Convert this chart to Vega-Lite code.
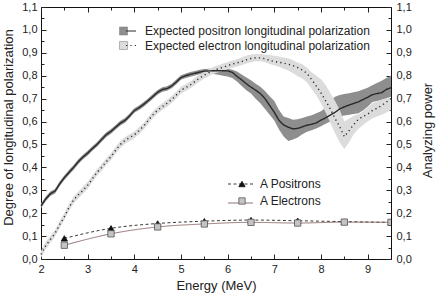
{
  "$schema": "https://vega.github.io/schema/vega-lite/v6.json",
  "width": 350,
  "height": 252,
  "autosize": {"type": "none"},
  "padding": {"left": 41, "top": 7, "right": 45, "bottom": 37},
  "background": "white",
  "config": {
    "font": "Liberation Sans",
    "view": {"stroke": "#111", "strokeWidth": 1},
    "axis": {"grid": false, "domain": false, "labelFlush": false, "labelOverlap": false, "labelBound": false, "labelFont": "Liberation Sans", "labelFontSize": 11, "labelColor": "#222", "tickColor": "#222", "titleFont": "Liberation Sans", "titleColor": "#222", "titleFontWeight": "normal", "titleFontSize": 13, "zindex": 1},
    "legend": {"padding": 0, "labelFont": "Liberation Sans", "labelFontSize": 12, "labelColor": "#222", "orient": "none", "labelLimit": 0}
  },
  "datasets": {
    "curves": [
      {"E":2.0,"series":"Expected positron longitudinal polarization","v":0.232,"lo":0.222,"hi":0.242},
      {"E":2.1,"series":"Expected positron longitudinal polarization","v":0.262,"lo":0.252,"hi":0.272},
      {"E":2.2,"series":"Expected positron longitudinal polarization","v":0.285,"lo":0.275,"hi":0.295},
      {"E":2.3,"series":"Expected positron longitudinal polarization","v":0.296,"lo":0.286,"hi":0.306},
      {"E":2.4,"series":"Expected positron longitudinal polarization","v":0.328,"lo":0.318,"hi":0.338},
      {"E":2.5,"series":"Expected positron longitudinal polarization","v":0.355,"lo":0.345,"hi":0.365},
      {"E":2.6,"series":"Expected positron longitudinal polarization","v":0.378,"lo":0.368,"hi":0.388},
      {"E":2.7,"series":"Expected positron longitudinal polarization","v":0.400,"lo":0.390,"hi":0.410},
      {"E":2.8,"series":"Expected positron longitudinal polarization","v":0.425,"lo":0.415,"hi":0.435},
      {"E":2.9,"series":"Expected positron longitudinal polarization","v":0.445,"lo":0.435,"hi":0.455},
      {"E":3.0,"series":"Expected positron longitudinal polarization","v":0.462,"lo":0.452,"hi":0.472},
      {"E":3.1,"series":"Expected positron longitudinal polarization","v":0.482,"lo":0.472,"hi":0.492},
      {"E":3.2,"series":"Expected positron longitudinal polarization","v":0.500,"lo":0.490,"hi":0.510},
      {"E":3.3,"series":"Expected positron longitudinal polarization","v":0.522,"lo":0.512,"hi":0.532},
      {"E":3.4,"series":"Expected positron longitudinal polarization","v":0.543,"lo":0.533,"hi":0.553},
      {"E":3.5,"series":"Expected positron longitudinal polarization","v":0.557,"lo":0.547,"hi":0.567},
      {"E":3.6,"series":"Expected positron longitudinal polarization","v":0.575,"lo":0.565,"hi":0.585},
      {"E":3.7,"series":"Expected positron longitudinal polarization","v":0.593,"lo":0.583,"hi":0.603},
      {"E":3.8,"series":"Expected positron longitudinal polarization","v":0.605,"lo":0.595,"hi":0.615},
      {"E":3.9,"series":"Expected positron longitudinal polarization","v":0.625,"lo":0.615,"hi":0.635},
      {"E":4.0,"series":"Expected positron longitudinal polarization","v":0.648,"lo":0.638,"hi":0.658},
      {"E":4.1,"series":"Expected positron longitudinal polarization","v":0.660,"lo":0.650,"hi":0.670},
      {"E":4.2,"series":"Expected positron longitudinal polarization","v":0.675,"lo":0.665,"hi":0.685},
      {"E":4.3,"series":"Expected positron longitudinal polarization","v":0.692,"lo":0.682,"hi":0.702},
      {"E":4.4,"series":"Expected positron longitudinal polarization","v":0.710,"lo":0.700,"hi":0.720},
      {"E":4.5,"series":"Expected positron longitudinal polarization","v":0.728,"lo":0.718,"hi":0.738},
      {"E":4.6,"series":"Expected positron longitudinal polarization","v":0.740,"lo":0.730,"hi":0.750},
      {"E":4.7,"series":"Expected positron longitudinal polarization","v":0.744,"lo":0.734,"hi":0.754},
      {"E":4.8,"series":"Expected positron longitudinal polarization","v":0.755,"lo":0.745,"hi":0.765},
      {"E":4.9,"series":"Expected positron longitudinal polarization","v":0.773,"lo":0.763,"hi":0.783},
      {"E":5.0,"series":"Expected positron longitudinal polarization","v":0.792,"lo":0.782,"hi":0.802},
      {"E":5.1,"series":"Expected positron longitudinal polarization","v":0.800,"lo":0.790,"hi":0.810},
      {"E":5.2,"series":"Expected positron longitudinal polarization","v":0.806,"lo":0.796,"hi":0.816},
      {"E":5.3,"series":"Expected positron longitudinal polarization","v":0.811,"lo":0.801,"hi":0.821},
      {"E":5.4,"series":"Expected positron longitudinal polarization","v":0.816,"lo":0.806,"hi":0.826},
      {"E":5.5,"series":"Expected positron longitudinal polarization","v":0.820,"lo":0.810,"hi":0.829},
      {"E":5.6,"series":"Expected positron longitudinal polarization","v":0.821,"lo":0.810,"hi":0.830},
      {"E":5.7,"series":"Expected positron longitudinal polarization","v":0.822,"lo":0.808,"hi":0.831},
      {"E":5.8,"series":"Expected positron longitudinal polarization","v":0.822,"lo":0.804,"hi":0.832},
      {"E":5.9,"series":"Expected positron longitudinal polarization","v":0.822,"lo":0.800,"hi":0.832},
      {"E":6.0,"series":"Expected positron longitudinal polarization","v":0.821,"lo":0.797,"hi":0.830},
      {"E":6.1,"series":"Expected positron longitudinal polarization","v":0.815,"lo":0.790,"hi":0.826},
      {"E":6.2,"series":"Expected positron longitudinal polarization","v":0.797,"lo":0.775,"hi":0.818},
      {"E":6.3,"series":"Expected positron longitudinal polarization","v":0.782,"lo":0.755,"hi":0.805},
      {"E":6.4,"series":"Expected positron longitudinal polarization","v":0.765,"lo":0.737,"hi":0.792},
      {"E":6.5,"series":"Expected positron longitudinal polarization","v":0.750,"lo":0.722,"hi":0.780},
      {"E":6.6,"series":"Expected positron longitudinal polarization","v":0.737,"lo":0.700,"hi":0.765},
      {"E":6.7,"series":"Expected positron longitudinal polarization","v":0.722,"lo":0.680,"hi":0.752},
      {"E":6.8,"series":"Expected positron longitudinal polarization","v":0.700,"lo":0.655,"hi":0.733},
      {"E":6.9,"series":"Expected positron longitudinal polarization","v":0.670,"lo":0.630,"hi":0.710},
      {"E":7.0,"series":"Expected positron longitudinal polarization","v":0.640,"lo":0.605,"hi":0.690},
      {"E":7.1,"series":"Expected positron longitudinal polarization","v":0.605,"lo":0.565,"hi":0.650},
      {"E":7.2,"series":"Expected positron longitudinal polarization","v":0.585,"lo":0.535,"hi":0.622},
      {"E":7.3,"series":"Expected positron longitudinal polarization","v":0.575,"lo":0.515,"hi":0.615},
      {"E":7.4,"series":"Expected positron longitudinal polarization","v":0.568,"lo":0.522,"hi":0.608},
      {"E":7.5,"series":"Expected positron longitudinal polarization","v":0.570,"lo":0.530,"hi":0.610},
      {"E":7.6,"series":"Expected positron longitudinal polarization","v":0.577,"lo":0.545,"hi":0.616},
      {"E":7.7,"series":"Expected positron longitudinal polarization","v":0.584,"lo":0.555,"hi":0.622},
      {"E":7.8,"series":"Expected positron longitudinal polarization","v":0.588,"lo":0.562,"hi":0.628},
      {"E":7.9,"series":"Expected positron longitudinal polarization","v":0.594,"lo":0.570,"hi":0.636},
      {"E":8.0,"series":"Expected positron longitudinal polarization","v":0.606,"lo":0.580,"hi":0.645},
      {"E":8.1,"series":"Expected positron longitudinal polarization","v":0.616,"lo":0.590,"hi":0.660},
      {"E":8.2,"series":"Expected positron longitudinal polarization","v":0.628,"lo":0.600,"hi":0.690},
      {"E":8.3,"series":"Expected positron longitudinal polarization","v":0.640,"lo":0.610,"hi":0.708},
      {"E":8.4,"series":"Expected positron longitudinal polarization","v":0.655,"lo":0.622,"hi":0.716},
      {"E":8.5,"series":"Expected positron longitudinal polarization","v":0.664,"lo":0.626,"hi":0.720},
      {"E":8.6,"series":"Expected positron longitudinal polarization","v":0.672,"lo":0.630,"hi":0.724},
      {"E":8.7,"series":"Expected positron longitudinal polarization","v":0.679,"lo":0.633,"hi":0.728},
      {"E":8.8,"series":"Expected positron longitudinal polarization","v":0.686,"lo":0.636,"hi":0.732},
      {"E":8.9,"series":"Expected positron longitudinal polarization","v":0.696,"lo":0.648,"hi":0.740},
      {"E":9.0,"series":"Expected positron longitudinal polarization","v":0.706,"lo":0.665,"hi":0.748},
      {"E":9.1,"series":"Expected positron longitudinal polarization","v":0.717,"lo":0.685,"hi":0.758},
      {"E":9.2,"series":"Expected positron longitudinal polarization","v":0.722,"lo":0.690,"hi":0.768},
      {"E":9.3,"series":"Expected positron longitudinal polarization","v":0.726,"lo":0.695,"hi":0.778},
      {"E":9.4,"series":"Expected positron longitudinal polarization","v":0.740,"lo":0.702,"hi":0.790},
      {"E":9.5,"series":"Expected positron longitudinal polarization","v":0.748,"lo":0.708,"hi":0.800},
      {"E":2.0,"series":"Expected electron longitudinal polarization","v":0.020,"lo":0.005,"hi":0.035},
      {"E":2.1,"series":"Expected electron longitudinal polarization","v":0.058,"lo":0.043,"hi":0.073},
      {"E":2.2,"series":"Expected electron longitudinal polarization","v":0.085,"lo":0.070,"hi":0.100},
      {"E":2.3,"series":"Expected electron longitudinal polarization","v":0.112,"lo":0.097,"hi":0.127},
      {"E":2.4,"series":"Expected electron longitudinal polarization","v":0.150,"lo":0.135,"hi":0.165},
      {"E":2.5,"series":"Expected electron longitudinal polarization","v":0.185,"lo":0.170,"hi":0.200},
      {"E":2.6,"series":"Expected electron longitudinal polarization","v":0.225,"lo":0.210,"hi":0.240},
      {"E":2.7,"series":"Expected electron longitudinal polarization","v":0.258,"lo":0.243,"hi":0.273},
      {"E":2.8,"series":"Expected electron longitudinal polarization","v":0.280,"lo":0.265,"hi":0.295},
      {"E":2.9,"series":"Expected electron longitudinal polarization","v":0.300,"lo":0.285,"hi":0.315},
      {"E":3.0,"series":"Expected electron longitudinal polarization","v":0.322,"lo":0.307,"hi":0.337},
      {"E":3.1,"series":"Expected electron longitudinal polarization","v":0.350,"lo":0.335,"hi":0.365},
      {"E":3.2,"series":"Expected electron longitudinal polarization","v":0.378,"lo":0.363,"hi":0.393},
      {"E":3.3,"series":"Expected electron longitudinal polarization","v":0.400,"lo":0.385,"hi":0.415},
      {"E":3.4,"series":"Expected electron longitudinal polarization","v":0.425,"lo":0.410,"hi":0.440},
      {"E":3.5,"series":"Expected electron longitudinal polarization","v":0.447,"lo":0.432,"hi":0.462},
      {"E":3.6,"series":"Expected electron longitudinal polarization","v":0.475,"lo":0.460,"hi":0.490},
      {"E":3.7,"series":"Expected electron longitudinal polarization","v":0.500,"lo":0.485,"hi":0.515},
      {"E":3.8,"series":"Expected electron longitudinal polarization","v":0.518,"lo":0.503,"hi":0.533},
      {"E":3.9,"series":"Expected electron longitudinal polarization","v":0.530,"lo":0.515,"hi":0.545},
      {"E":4.0,"series":"Expected electron longitudinal polarization","v":0.542,"lo":0.527,"hi":0.557},
      {"E":4.1,"series":"Expected electron longitudinal polarization","v":0.560,"lo":0.545,"hi":0.575},
      {"E":4.2,"series":"Expected electron longitudinal polarization","v":0.580,"lo":0.565,"hi":0.595},
      {"E":4.3,"series":"Expected electron longitudinal polarization","v":0.605,"lo":0.590,"hi":0.620},
      {"E":4.4,"series":"Expected electron longitudinal polarization","v":0.630,"lo":0.615,"hi":0.645},
      {"E":4.5,"series":"Expected electron longitudinal polarization","v":0.650,"lo":0.635,"hi":0.665},
      {"E":4.6,"series":"Expected electron longitudinal polarization","v":0.665,"lo":0.650,"hi":0.680},
      {"E":4.7,"series":"Expected electron longitudinal polarization","v":0.680,"lo":0.665,"hi":0.695},
      {"E":4.8,"series":"Expected electron longitudinal polarization","v":0.696,"lo":0.681,"hi":0.711},
      {"E":4.9,"series":"Expected electron longitudinal polarization","v":0.716,"lo":0.701,"hi":0.731},
      {"E":5.0,"series":"Expected electron longitudinal polarization","v":0.737,"lo":0.722,"hi":0.752},
      {"E":5.1,"series":"Expected electron longitudinal polarization","v":0.748,"lo":0.733,"hi":0.763},
      {"E":5.2,"series":"Expected electron longitudinal polarization","v":0.760,"lo":0.745,"hi":0.775},
      {"E":5.3,"series":"Expected electron longitudinal polarization","v":0.775,"lo":0.760,"hi":0.790},
      {"E":5.4,"series":"Expected electron longitudinal polarization","v":0.790,"lo":0.775,"hi":0.805},
      {"E":5.5,"series":"Expected electron longitudinal polarization","v":0.803,"lo":0.788,"hi":0.818},
      {"E":5.6,"series":"Expected electron longitudinal polarization","v":0.814,"lo":0.799,"hi":0.829},
      {"E":5.7,"series":"Expected electron longitudinal polarization","v":0.824,"lo":0.809,"hi":0.839},
      {"E":5.8,"series":"Expected electron longitudinal polarization","v":0.830,"lo":0.815,"hi":0.846},
      {"E":5.9,"series":"Expected electron longitudinal polarization","v":0.837,"lo":0.821,"hi":0.853},
      {"E":6.0,"series":"Expected electron longitudinal polarization","v":0.844,"lo":0.828,"hi":0.860},
      {"E":6.1,"series":"Expected electron longitudinal polarization","v":0.851,"lo":0.835,"hi":0.866},
      {"E":6.2,"series":"Expected electron longitudinal polarization","v":0.856,"lo":0.840,"hi":0.872},
      {"E":6.3,"series":"Expected electron longitudinal polarization","v":0.862,"lo":0.846,"hi":0.880},
      {"E":6.4,"series":"Expected electron longitudinal polarization","v":0.869,"lo":0.853,"hi":0.888},
      {"E":6.5,"series":"Expected electron longitudinal polarization","v":0.875,"lo":0.859,"hi":0.893},
      {"E":6.6,"series":"Expected electron longitudinal polarization","v":0.878,"lo":0.863,"hi":0.895},
      {"E":6.7,"series":"Expected electron longitudinal polarization","v":0.878,"lo":0.863,"hi":0.895},
      {"E":6.8,"series":"Expected electron longitudinal polarization","v":0.874,"lo":0.859,"hi":0.893},
      {"E":6.9,"series":"Expected electron longitudinal polarization","v":0.867,"lo":0.851,"hi":0.890},
      {"E":7.0,"series":"Expected electron longitudinal polarization","v":0.862,"lo":0.845,"hi":0.887},
      {"E":7.1,"series":"Expected electron longitudinal polarization","v":0.859,"lo":0.839,"hi":0.884},
      {"E":7.2,"series":"Expected electron longitudinal polarization","v":0.855,"lo":0.831,"hi":0.880},
      {"E":7.3,"series":"Expected electron longitudinal polarization","v":0.850,"lo":0.823,"hi":0.876},
      {"E":7.4,"series":"Expected electron longitudinal polarization","v":0.844,"lo":0.811,"hi":0.868},
      {"E":7.5,"series":"Expected electron longitudinal polarization","v":0.836,"lo":0.798,"hi":0.858},
      {"E":7.6,"series":"Expected electron longitudinal polarization","v":0.825,"lo":0.788,"hi":0.850},
      {"E":7.7,"series":"Expected electron longitudinal polarization","v":0.810,"lo":0.770,"hi":0.835},
      {"E":7.8,"series":"Expected electron longitudinal polarization","v":0.783,"lo":0.742,"hi":0.815},
      {"E":7.9,"series":"Expected electron longitudinal polarization","v":0.755,"lo":0.715,"hi":0.800},
      {"E":8.0,"series":"Expected electron longitudinal polarization","v":0.725,"lo":0.680,"hi":0.785},
      {"E":8.1,"series":"Expected electron longitudinal polarization","v":0.690,"lo":0.640,"hi":0.760},
      {"E":8.2,"series":"Expected electron longitudinal polarization","v":0.655,"lo":0.595,"hi":0.725},
      {"E":8.3,"series":"Expected electron longitudinal polarization","v":0.614,"lo":0.550,"hi":0.690},
      {"E":8.4,"series":"Expected electron longitudinal polarization","v":0.578,"lo":0.510,"hi":0.652},
      {"E":8.5,"series":"Expected electron longitudinal polarization","v":0.534,"lo":0.480,"hi":0.600},
      {"E":8.6,"series":"Expected electron longitudinal polarization","v":0.560,"lo":0.508,"hi":0.612},
      {"E":8.7,"series":"Expected electron longitudinal polarization","v":0.587,"lo":0.545,"hi":0.625},
      {"E":8.8,"series":"Expected electron longitudinal polarization","v":0.610,"lo":0.568,"hi":0.632},
      {"E":8.9,"series":"Expected electron longitudinal polarization","v":0.622,"lo":0.585,"hi":0.645},
      {"E":9.0,"series":"Expected electron longitudinal polarization","v":0.632,"lo":0.600,"hi":0.660},
      {"E":9.1,"series":"Expected electron longitudinal polarization","v":0.648,"lo":0.614,"hi":0.680},
      {"E":9.2,"series":"Expected electron longitudinal polarization","v":0.658,"lo":0.622,"hi":0.688},
      {"E":9.3,"series":"Expected electron longitudinal polarization","v":0.670,"lo":0.630,"hi":0.695},
      {"E":9.4,"series":"Expected electron longitudinal polarization","v":0.685,"lo":0.640,"hi":0.700},
      {"E":9.5,"series":"Expected electron longitudinal polarization","v":0.700,"lo":0.650,"hi":0.705}
    ],
    "ap": [
      {"E":2.5,"A":"A Positrons","v":0.090},
      {"E":3.5,"A":"A Positrons","v":0.134},
      {"E":4.5,"A":"A Positrons","v":0.155},
      {"E":5.5,"A":"A Positrons","v":0.165},
      {"E":6.5,"A":"A Positrons","v":0.170},
      {"E":7.5,"A":"A Positrons","v":0.167},
      {"E":8.5,"A":"A Positrons","v":0.163},
      {"E":9.5,"A":"A Positrons","v":0.160},
      {"E":2.5,"A":"A Electrons","v":0.060},
      {"E":3.5,"A":"A Electrons","v":0.110},
      {"E":4.5,"A":"A Electrons","v":0.140},
      {"E":5.5,"A":"A Electrons","v":0.153},
      {"E":6.5,"A":"A Electrons","v":0.160},
      {"E":7.5,"A":"A Electrons","v":0.157},
      {"E":8.5,"A":"A Electrons","v":0.161},
      {"E":9.5,"A":"A Electrons","v":0.160}
    ]
  },
  "resolve": {
    "scale": {"fill": "independent", "strokeDash": "independent", "color": "independent", "shape": "independent", "stroke": "independent"},
    "axis": {"x": "independent", "y": "independent"}
  },
  "layer": [
    {
      "data": {"name": "curves"},
      "mark": {"type": "area", "opacity": 1},
      "encoding": {
        "x": {"field": "E", "type": "quantitative", "scale": {"domain": [2, 9.5], "nice": false, "zero": false},
          "axis": {"orient": "bottom", "values": [2,3,4,5,6,7,8,9], "tickSize": -5, "labelPadding": 9, "title": "Energy (MeV)", "titleY": 26, "titleBaseline": "middle"}},
        "y": {"field": "lo", "type": "quantitative", "scale": {"domain": [0, 1.1], "nice": false, "zero": false},
          "axis": {"orient": "left", "values": [0,0.1,0.2,0.3,0.4,0.5,0.6,0.7,0.8,0.9,1,1.1], "tickSize": -5, "labelPadding": 9, "labelExpr": "replace(format(datum.value, '.1f'), '.', ',')", "title": "Degree of longitudinal polarization", "titleX": -33, "titleY": 120, "titleBaseline": "middle"}},
        "y2": {"field": "hi"},
        "fill": {"field": "series", "type": "nominal",
          "scale": {"domain": ["Expected positron longitudinal polarization", "Expected electron longitudinal polarization"], "range": ["#8e8e8e", "#dcdcdc"]},
          "legend": {"title": null, "orient": "none", "legendX": 76.5, "legendY": 18, "symbolType": "square", "symbolSize": 64, "symbolStrokeColor": "#777", "symbolStrokeWidth": 0.5, "labelOffset": 15.5, "rowPadding": 2.5}}
      }
    },
    {
      "data": {"name": "curves"},
      "mark": {"type": "line", "color": "#2a2a2a", "strokeWidth": 1.4},
      "encoding": {
        "x": {"field": "E", "type": "quantitative",
          "axis": {"orient": "bottom", "values": [2.5,3.5,4.5,5.5,6.5,7.5,8.5], "tickSize": -3, "labels": false, "title": null}},
        "y": {"field": "v", "type": "quantitative",
          "axis": {"orient": "left", "values": [0.05,0.15,0.25,0.35,0.45,0.55,0.65,0.75,0.85,0.95,1.05], "tickSize": -3, "labels": false, "title": null}},
        "strokeDash": {"field": "series", "type": "nominal",
          "scale": {"domain": ["Expected positron longitudinal polarization", "Expected electron longitudinal polarization"], "range": [[1, 0], [1.2, 3.2]]},
          "legend": {"title": null, "orient": "none", "legendX": 84, "legendY": 18, "symbolType": "stroke", "symbolSize": 100, "symbolStrokeColor": "#2a2a2a", "symbolStrokeWidth": 1.2, "labelExpr": "''", "rowPadding": 2.5}}
      }
    },
    {
      "data": {"name": "ap"},
      "mark": {"type": "line", "strokeWidth": 0.9, "interpolate": "monotone"},
      "encoding": {
        "x": {"field": "E", "type": "quantitative",
          "axis": {"orient": "top", "values": [2,3,4,5,6,7,8,9], "tickSize": -5, "labels": false, "title": null}},
        "y": {"field": "v", "type": "quantitative",
          "axis": {"orient": "right", "values": [0,0.1,0.2,0.3,0.4,0.5,0.6,0.7,0.8,0.9,1,1.1], "tickSize": -5, "labelPadding": 10, "labelExpr": "replace(format(datum.value, '.1f'), '.', ',')", "title": "Analyzing power", "titleAngle": 270, "titleX": 36, "titleY": 123, "titleBaseline": "middle"}},
        "color": {"field": "A", "type": "nominal",
          "scale": {"domain": ["A Positrons", "A Electrons"], "range": ["#222222", "#866262"]},
          "legend": {"title": null, "orient": "none", "legendX": 186.5, "legendY": 164, "symbolType": "stroke", "symbolSize": 625, "symbolStrokeWidth": 0.9, "labelExpr": "''", "rowPadding": -9}},
        "strokeDash": {"field": "A", "type": "nominal",
          "scale": {"domain": ["A Positrons", "A Electrons"], "range": [[3, 2.5], [1, 0]]}}
      }
    },
    {
      "data": {"name": "ap"},
      "mark": {"type": "point", "filled": false, "size": 40, "strokeWidth": 0.8, "opacity": 1, "clip": true},
      "encoding": {
        "x": {"field": "E", "type": "quantitative",
          "axis": {"orient": "top", "values": [2.5,3.5,4.5,5.5,6.5,7.5,8.5], "tickSize": -3, "labels": false, "title": null}},
        "y": {"field": "v", "type": "quantitative",
          "axis": {"orient": "right", "values": [0.05,0.15,0.25,0.35,0.45,0.55,0.65,0.75,0.85,0.95,1.05], "tickSize": -3, "labels": false, "title": null}},
        "shape": {"field": "A", "type": "nominal",
          "scale": {"domain": ["A Positrons", "A Electrons"], "range": ["triangle-up", "square"]},
          "legend": {"title": null, "orient": "none", "legendX": 195, "legendY": 171, "labelOffset": 12, "rowPadding": 5, "symbolSize": 40, "symbolStrokeWidth": 0.8}},
        "fill": {"field": "A", "type": "nominal",
          "scale": {"domain": ["A Positrons", "A Electrons"], "range": ["#111111", "#c4c4c4"]}},
        "stroke": {"field": "A", "type": "nominal",
          "scale": {"domain": ["A Positrons", "A Electrons"], "range": ["#111111", "#555555"]}}
      }
    }
  ]
}
